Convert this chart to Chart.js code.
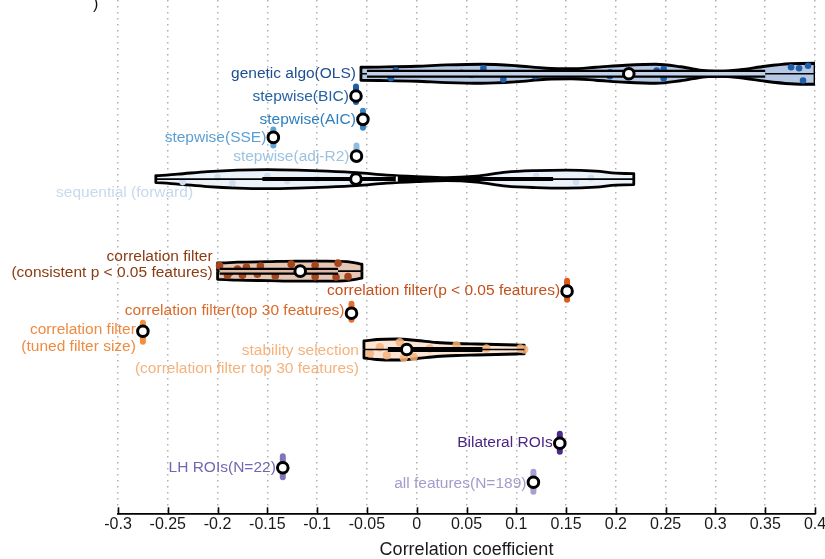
<!DOCTYPE html>
<html>
<head>
<meta charset="utf-8">
<script src="https://cdn.jsdelivr.net/npm/chart.js@4.4.1/dist/chart.umd.min.js"></script>
<style>
  html, body { margin: 0; padding: 0; background: #ffffff; }
  #wrap { width: 825px; height: 559px; position: relative; }
</style>
</head>
<body>
<div id="wrap"><canvas id="chart"></canvas></div>
<script>
// ---------- x axis ----------
const tickValues = [-0.3, -0.25, -0.2, -0.15, -0.1, -0.05, 0, 0.05, 0.1, 0.15, 0.2, 0.25, 0.3, 0.35, 0.4];
const tickLabels = ['-0.3', '-0.25', '-0.2', '-0.15', '-0.1', '-0.05', '0', '0.05', '0.1', '0.15', '0.2', '0.25', '0.3', '0.35', '0.4'];
const axisTitle = 'Correlation coefficient';

// ---------- violin rows ----------
// genetic algo(OLS)
const geneticSlot = 7.37;
const geneticKdeX = [-0.056, -0.03, 0.0, 0.03, 0.065, 0.10, 0.13, 0.155, 0.18, 0.21, 0.24, 0.265, 0.29, 0.305, 0.325, 0.35, 0.375, 0.4];
const geneticKdeHalf = [0.65, 0.68, 0.75, 0.88, 0.95, 0.8, 0.55, 0.5, 0.65, 0.85, 0.95, 0.7, 0.3, 0.25, 0.4, 0.75, 1.0, 1.05];
const geneticScores = [-0.021, -0.026, 0.045, 0.055, 0.067, 0.087, 0.119, 0.194, 0.194, 0.241, 0.248, 0.248, 0.376, 0.384, 0.393, 0.388];
const geneticJitter = [-0.34, 0.45, -0.1, 0.1, -0.55, 0.58, 0.25, -0.15, 0.25, -0.32, -0.48, 0.45, -0.65, -0.55, -0.8, 0.68];
const geneticStats = [-0.056, -0.05, 0.213, 0.35, 0.4]; // min, q1, median, q3, max

// sequential (forward)
const sequentialSlot = 17.9;
const sequentialKdeX = [-0.262, -0.24, -0.21, -0.18, -0.15, -0.12, -0.09, -0.06, -0.03, 0.0, 0.03, 0.06, 0.09, 0.12, 0.15, 0.18, 0.2, 0.218];
const sequentialKdeHalf = [0.35, 0.5, 0.75, 0.9, 0.95, 0.9, 0.8, 0.65, 0.4, 0.25, 0.15, 0.3, 0.7, 0.85, 0.9, 0.8, 0.6, 0.55];
const sequentialScores = [-0.235, -0.2, -0.185, -0.15, -0.13, -0.1, 0.12, 0.16, 0.175];
const sequentialJitter = [0.3, -0.2, 0.4, -0.3, 0.2, 0.0, -0.3, 0.3, -0.1];
const sequentialStats = [-0.262, -0.155, -0.061, 0.137, 0.218];
const sequentialMean = -0.02;

// correlation filter (consistent p < 0.05 features)
const consistentSlot = 27.1;
const consistentKdeX = [-0.2, -0.18, -0.15, -0.12, -0.09, -0.07, -0.06, -0.055];
const consistentKdeHalf = [0.82, 0.9, 0.95, 1.0, 1.0, 0.95, 0.8, 0.7];
const consistentScores = [-0.198, -0.188, -0.18, -0.171, -0.175, -0.157, -0.142, -0.126, -0.102, -0.102, -0.079, -0.081, -0.069, -0.19, -0.16];
const consistentJitter = [-0.55, 0.15, -0.2, -0.42, 0.42, -0.52, 0.48, -0.7, -0.58, 0.55, -0.8, 0.58, 0.55, 0.4, 0.3];
const consistentStats = [-0.2, -0.198, -0.117, -0.079, -0.055];

// stability selection (correlation filter top 30 features)
const stabilitySlot = 34.93;
const stabilityKdeX = [-0.053, -0.04, -0.02, 0.0, 0.02, 0.04, 0.06, 0.08, 0.1, 0.108];
const stabilityKdeHalf = [0.85, 1.0, 1.05, 0.9, 0.7, 0.6, 0.55, 0.5, 0.45, 0.43];
const stabilityScores = [-0.047, -0.037, -0.03, -0.017, -0.013, -0.003, 0.013, 0.04, 0.07, 0.104, 0.108];
const stabilityJitter = [0.4, -0.23, 0.57, -0.73, 0.85, 0.74, -0.1, -0.43, -0.1, -0.1, 0.0];
const stabilityStats = [-0.053, -0.029, -0.01, 0.066, 0.108];

// ---------- single-value rows ----------
const singleNames = [
  ['stepwise(BIC)'], ['stepwise(AIC)'], ['stepwise(SSE)'], ['stepwise(adj-R2)'],
  ['correlation filter(p < 0.05 features)'], ['correlation filter(top 30 features)'],
  ['correlation filter', '(tuned filter size)'],
  ['Bilateral ROIs'], ['LH ROIs(N=22)'], ['all features(N=189)']
];
const singleValues = [-0.061, -0.054, -0.144, -0.0605, 0.151, -0.0655, -0.275, 0.1437, -0.1345, 0.1172];
const singleSlots = [9.6, 11.93, 13.73, 15.6, 29.1, 31.3, 33.1, 44.3, 46.75, 48.2];

// ---------- styling ----------
const FONT = '"Liberation Sans", Arial, Helvetica, sans-serif';
const singleStyle = [
  { text: '#2462a6', blob: '#1f5fa5', spread: [-0.95, 0.6], dy: [1] },
  { text: '#2f7fc0', blob: '#3a88c8', spread: [-0.85, 0.85], dy: [0] },
  { text: '#5c9fd2', blob: '#5fa4d6', spread: [-0.8, 0.8], dy: [0] },
  { text: '#9cc3e2', blob: '#8fbde0', spread: [-1.05, 0.05], dy: [1] },
  { text: '#c4501c', blob: '#dd5a1c', spread: [-1.05, 0.85], dy: [0] },
  { text: '#db6a2a', blob: '#e2702e', spread: [-0.95, 0.65], dy: [-2] },
  { text: '#ef8b40', blob: '#f09040', spread: [-0.85, 1.05], dy: [-1, 16] },
  { text: '#4a2685', blob: '#4b2a8a', spread: [-0.95, 0.85], dy: [-1] },
  { text: '#7466b2', blob: '#8074bb', spread: [-1.15, 0.95], dy: [0] },
  { text: '#a59bcb', blob: '#a99fd0', spread: [-1.05, 0.95], dy: [1] }
];

const violins = [
  { lines: ['genetic algo(OLS)'], dy: [0], text: '#1d4f8f', fill: '#b6c9e4', dot: '#1f5ea8', boxInner: '#c3d2e8',
    slot: geneticSlot, kx: geneticKdeX, kh: geneticKdeHalf, sx: geneticScores, sj: geneticJitter, st: geneticStats, boxW: 8, dotR: 3.3 },
  { lines: ['sequential (forward)'], dy: [14], text: '#c7d9ec', fill: '#ecf2f9', dot: '#cddff1', boxInner: null,
    slot: sequentialSlot, kx: sequentialKdeX, kh: sequentialKdeHalf, sx: sequentialScores, sj: sequentialJitter, st: sequentialStats, boxW: 4,
    labelAnchor: -0.2196, mean: sequentialMean, dotR: 3.3 },
  { lines: ['correlation filter', '(consistent p < 0.05 features)'], dy: [-14, 2], text: '#8b3b12', fill: '#e6c6b4', dot: '#a4461b', boxInner: '#dfbba7',
    slot: consistentSlot, kx: consistentKdeX, kh: consistentKdeHalf, sx: consistentScores, sj: consistentJitter, st: consistentStats, boxW: 7, dotR: 3.8 },
  { lines: ['stability selection', '(correlation filter top 30 features)'], dy: [1, 19], text: '#f5b27c', fill: '#fbe6d4', dot: 'rgba(246,176,120,0.85)', boxInner: null,
    slot: stabilitySlot, kx: stabilityKdeX, kh: stabilityKdeHalf, sx: stabilityScores, sj: stabilityJitter, st: stabilityStats, boxW: 5, dotR: 4.2 }
];

// ---------- datasets ----------
const datasets = [];
const labelRows = [];

violins.forEach(v => {
  const first = v.kx[0], last = v.kx[v.kx.length - 1];
  const upper = [{ x: first, y: v.slot }];
  const lower = [{ x: first, y: v.slot }];
  v.kx.forEach((x, i) => {
    upper.push({ x, y: v.slot - v.kh[i] });
    lower.push({ x, y: v.slot + v.kh[i] });
  });
  upper.push({ x: last, y: v.slot });
  lower.push({ x: last, y: v.slot });

  const outline = { type: 'line', borderColor: '#000', borderWidth: 2.8, pointRadius: 0,
    borderJoinStyle: 'round', cubicInterpolationMode: 'monotone', order: 50 };
  datasets.push(Object.assign({ data: upper, fill: false }, outline));
  datasets.push(Object.assign({ data: lower, fill: '-1', backgroundColor: v.fill }, outline));

  // individual scores inside the violin
  datasets.push({ type: 'scatter', data: v.sx.map((x, i) => ({ x, y: v.slot + v.sj[i] })),
    pointRadius: v.dotR, pointBackgroundColor: v.dot, pointBorderWidth: 0, order: 40 });

  // whisker
  datasets.push({ type: 'line', data: [{ x: v.st[0], y: v.slot }, { x: v.st[4], y: v.slot }],
    borderColor: '#000', borderWidth: 1.6, pointRadius: 0, fill: false, order: 30 });
  // interquartile box
  datasets.push({ type: 'line', data: [{ x: v.st[1], y: v.slot }, { x: v.st[3], y: v.slot }],
    borderColor: '#000', borderWidth: v.boxW, borderCapStyle: 'butt', pointRadius: 0, fill: false, order: 25 });
  if (v.boxInner) {
    datasets.push({ type: 'line', data: [{ x: v.st[1], y: v.slot }, { x: v.st[3], y: v.slot }],
      borderColor: v.boxInner, borderWidth: v.boxW - 4.5, borderCapStyle: 'butt', pointRadius: 0, fill: false, order: 24 });
  }
  if (v.mean !== undefined) {
    datasets.push({ type: 'scatter', data: [{ x: v.mean, y: v.slot }], pointStyle: 'line', rotation: 90,
      pointRadius: 2.5, pointBorderColor: '#ffffff', pointBorderWidth: 2, order: 20 });
  }
  // median
  datasets.push({ type: 'scatter', data: [{ x: v.st[2], y: v.slot }], pointRadius: 5.3, pointBackgroundColor: '#ffffff',
    pointBorderColor: '#000', pointBorderWidth: 3, order: 5 });

  labelRows.push({ lines: v.lines, dy: v.dy, color: v.text, slot: v.slot,
    anchor: v.labelAnchor !== undefined ? v.labelAnchor : first, gap: 5 });
});

singleValues.forEach((val, i) => {
  const s = singleStyle[i];
  const slot = singleSlots[i];
  datasets.push({ type: 'line', data: [{ x: val, y: slot + s.spread[0] }, { x: val, y: slot + s.spread[1] }],
    borderColor: s.blob, borderWidth: 6, borderCapStyle: 'round', pointRadius: 0, fill: false, order: 30 });
  datasets.push({ type: 'scatter', data: [{ x: val, y: slot }], pointRadius: 5.3, pointBackgroundColor: '#ffffff',
    pointBorderColor: '#000', pointBorderWidth: 3, order: 5 });
  labelRows.push({ lines: singleNames[i], dy: s.dy, color: s.text, slot, anchor: val, gap: 7 });
});

// ---------- plugins ----------
const rowLabelPlugin = {
  id: 'rowLabels',
  beforeDatasetsDraw(chart) {
    const { ctx, scales: { x, y } } = chart;
    ctx.save();
    ctx.font = '15.5px ' + FONT;
    ctx.textAlign = 'right';
    ctx.textBaseline = 'middle';
    labelRows.forEach(r => {
      const px = x.getPixelForValue(r.anchor) - r.gap;
      const py = y.getPixelForValue(r.slot);
      ctx.fillStyle = r.color;
      r.lines.forEach((t, i) => ctx.fillText(t, px, py + r.dy[i]));
    });
    // closing bracket of the caption above the plot
    ctx.fillStyle = '#111';
    ctx.textAlign = 'left';
    ctx.textBaseline = 'alphabetic';
    ctx.font = '16px ' + FONT;
    ctx.fillText(')', 93, 9);
    ctx.restore();
  }
};

const innerTickPlugin = {
  id: 'innerTicks',
  afterDatasetsDraw(chart) {
    const { ctx, scales: { x }, chartArea } = chart;
    ctx.save();
    ctx.strokeStyle = '#000';
    ctx.lineWidth = 1.6;
    x.ticks.forEach(t => {
      const px = Math.round(x.getPixelForValue(t.value)) + 0.5;
      ctx.beginPath();
      ctx.moveTo(px, chartArea.bottom);
      ctx.lineTo(px, chartArea.bottom - 7);
      ctx.stroke();
    });
    ctx.restore();
  }
};

new Chart(document.getElementById('chart'), {
  type: 'scatter',
  data: { datasets },
  plugins: [rowLabelPlugin, innerTickPlugin],
  options: {
    responsive: true,
    maintainAspectRatio: false,
    animation: false,
    events: [],
    layout: { autoPadding: false, padding: { left: 118, right: 10, top: 0, bottom: 0 } },
    plugins: { legend: { display: false }, tooltip: { enabled: false } },
    scales: {
      x: {
        type: 'linear',
        min: -0.3,
        max: 0.4,
        afterBuildTicks(scale) { scale.ticks = tickValues.map(v => ({ value: v })); },
        afterFit(scale) { scale.paddingLeft = 0; scale.paddingRight = 0; },
        ticks: {
          autoSkip: false,
          maxRotation: 0,
          padding: 1,
          color: '#1a1a1a',
          font: { family: FONT, size: 16 },
          callback: (value, index) => tickLabels[index]
        },
        grid: { color: '#b0b0b0', lineWidth: 1.5, drawTicks: false },
        border: { display: true, color: '#000', width: 1.8, dash: [1.5, 4.5] },
        title: { display: true, text: axisTitle, color: '#1a1a1a', font: { family: FONT, size: 18, lineHeight: 1.0 },
          padding: { top: 5.5, bottom: 0 } }
      },
      y: {
        type: 'linear',
        display: false,
        reverse: true,
        min: 0,
        max: 51.4
      }
    }
  }
});
</script>
</body>
</html>
